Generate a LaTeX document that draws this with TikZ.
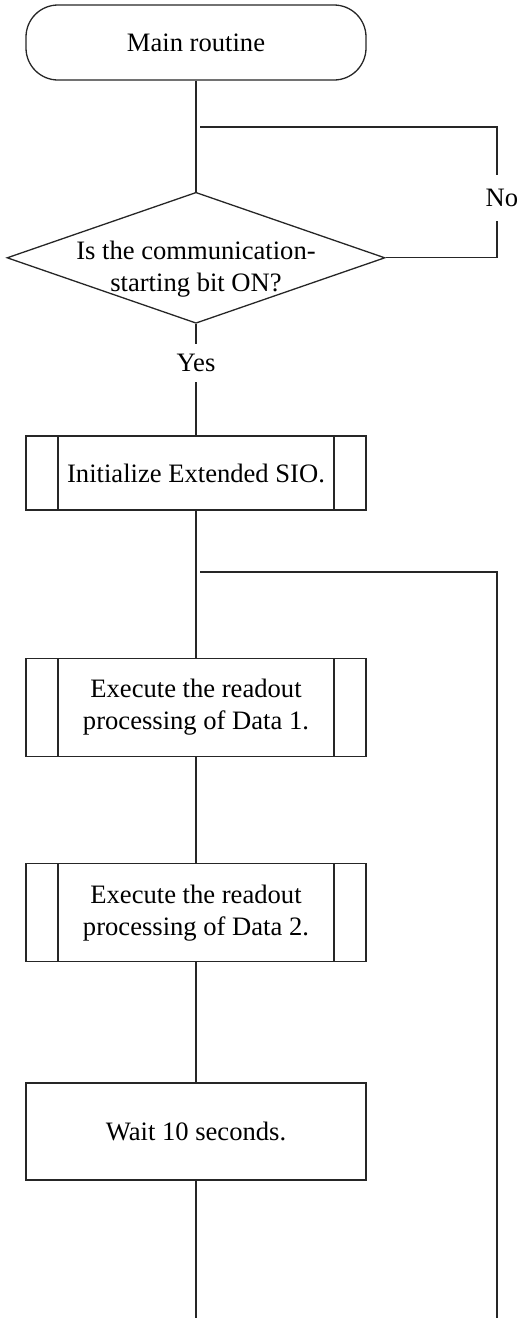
\documentclass[tikz,border=0pt]{standalone}
\usepackage{fontspec}
\setmainfont{Liberation Serif}
\usepackage{tikz}
\usetikzlibrary{positioning}
\usetikzlibrary{shapes.geometric}

\tikzset{
    link/.style={draw=black!85, line width=0.65pt},
    terminal/.style={link, rectangle, rounded corners=16pt, minimum width=170pt, minimum height=37.5pt, inner sep=0pt},
    process/.style={link, rectangle, minimum width=170pt, inner sep=0pt, align=center},
    subroutine/.style={process, path picture={
        \draw[link] ([xshift=16pt]path picture bounding box.north west) -- ([xshift=16pt]path picture bounding box.south west)
                    ([xshift=-16pt]path picture bounding box.north east) -- ([xshift=-16pt]path picture bounding box.south east);}},
    decision/.style={link, diamond, minimum width=189pt, minimum height=65.5pt, inner sep=0pt},
    answer/.style={inner xsep=0pt, inner ysep=5pt},
}

\begin{document}
\begin{tikzpicture}[x=0.5pt, y=-0.5pt, font=\fontsize{13.3}{16}\selectfont]
    \useasboundingbox (0,0) rectangle (518,1318);

    \node[terminal] (main) at (196,42.5) {Main routine};
    \node[decision, below=55.5pt of main] (q) {};
    \node[align=center, yshift=-5.5pt] (qtext) at (q.center) {Is the communication-\\starting bit ON?};
    \node[answer, below=10pt of q] (yes) {Yes};
    \node[subroutine, minimum height=37pt, below=26.5pt of yes] (init) {Initialize Extended SIO.};
    \node[subroutine, minimum height=49pt, below=73.5pt of init] (data1) {Execute the readout\\processing of Data 1.};
    \node[subroutine, minimum height=49pt, below=53pt of data1] (data2) {Execute the readout\\processing of Data 2.};
    \node[process, minimum height=48.5pt, below=60pt of data2] (wait) {Wait 10 seconds.};

    % loop-back points
    \coordinate (top1) at (200,127);
    \coordinate (corner1) at (497,127);
    \node[answer, inner ysep=7pt] (no) at (502,198) {No};
    \coordinate (top2) at (200,572);
    \coordinate (corner2) at (497,572);
    \coordinate (end) at (196,1318);
    \coordinate (end2) at (497,1318);

    \draw[link] (main) -- (q) (q) -- (yes) (yes) -- (init) (init) -- (data1)
        (data1) -- (data2) (data2) -- (wait) (wait.south) -- (end);
    \draw[link] (top1) -- (corner1) -- (corner1 |- no.north);
    \draw[link] (corner1 |- no.south) -- (corner1 |- q.east) -- (q.east);
    \draw[link] (top2) -- (corner2) -- (end2);
\end{tikzpicture}
\end{document}
